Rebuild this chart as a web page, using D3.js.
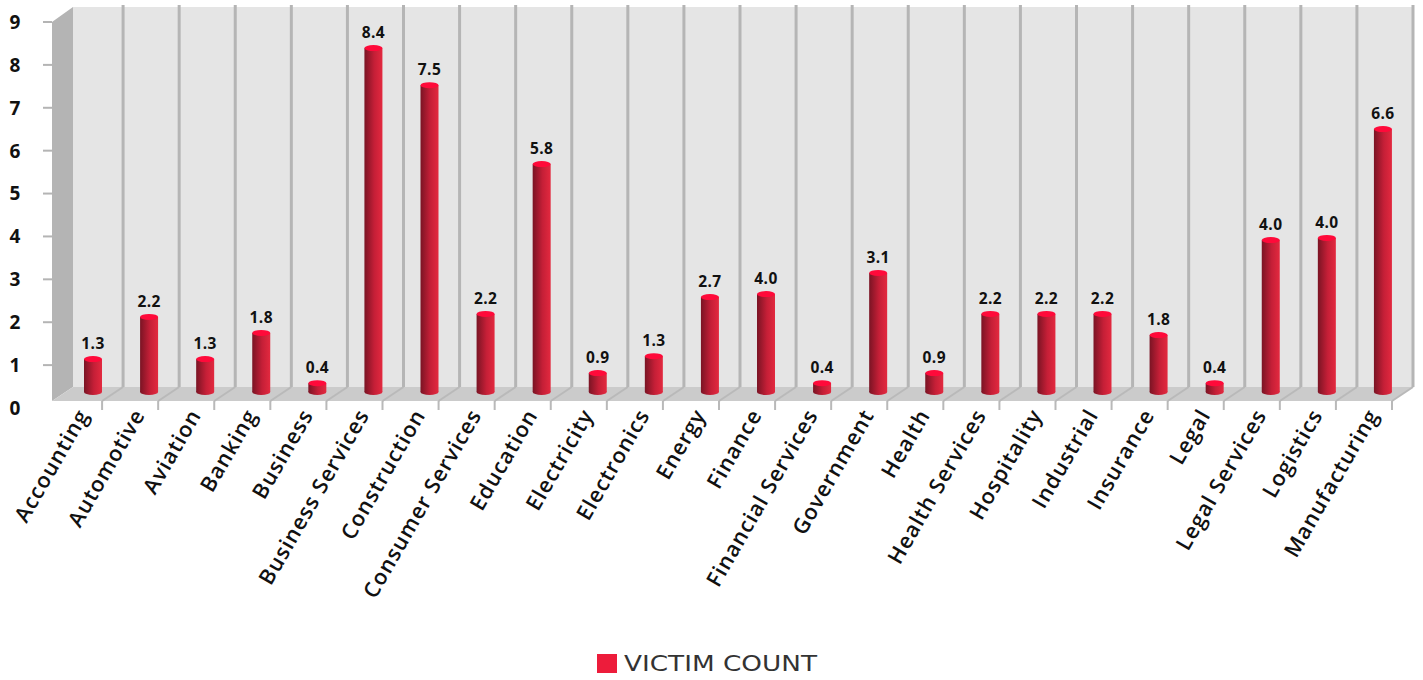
<!DOCTYPE html>
<html>
<head>
<meta charset="utf-8">
<script src="https://cdn.jsdelivr.net/npm/d3@7"></script>
<style>
  html, body { margin: 0; padding: 0; background: #ffffff; }
  svg { display: block; }
</style>
</head>
<body>
<svg id="chart" width="1423" height="680"></svg>
<script>
// ---- data ----
const categories = ["Accounting","Automotive","Aviation","Banking","Business","Business Services","Construction","Consumer Services","Education","Electricity","Electronics","Energy","Finance","Financial Services","Government","Health","Health Services","Hospitality","Industrial","Insurance","Legal","Legal Services","Logistics","Manufacturing"];
const barValues = [0.78,1.78,0.78,1.40,0.21,8.15,7.27,1.85,5.40,0.45,0.85,2.25,2.32,0.21,2.82,0.45,1.85,1.85,1.85,1.35,0.21,3.60,3.65,6.23];
const valueLabels = ["1.3","2.2","1.3","1.8","0.4","8.4","7.5","2.2","5.8","0.9","1.3","2.7","4.0","0.4","3.1","0.9","2.2","2.2","2.2","1.8","0.4","4.0","4.0","6.6"];
const yTickValues = [0,1,2,3,4,5,6,7,8,9];
const seriesName = "VICTIM COUNT";

// ---- layout ----
const svg = d3.select("#chart");
const DX = 21, DY = -14;           // 3D depth offset
const frontLeft = 52, frontBottom = 401, frontTop = 22;
const x = d3.scaleBand().domain(categories).range([46, 1392]).padding(0);
const bw = x.bandwidth();
const yAxis = d3.scaleLinear().domain([0, 9]).range([408, 22]);
const yBar = d3.scaleLinear().domain([0, 9]).range([392, 392 - 9 * 42.2]);
const frontRight = x.range()[1];

const defs = svg.append("defs");
const grad = defs.append("linearGradient").attr("id", "cyl").attr("x1", "0%").attr("x2", "100%").attr("y1", "0%").attr("y2", "0%");
grad.append("stop").attr("offset", "0%").attr("stop-color", "#7a1424");
grad.append("stop").attr("offset", "55%").attr("stop-color", "#c51f37");
grad.append("stop").attr("offset", "100%").attr("stop-color", "#e3293f");

// back wall
svg.append("rect")
  .attr("x", frontLeft + DX).attr("y", frontTop + DY - 1)
  .attr("width", frontRight + DX - (frontLeft + DX)).attr("height", frontBottom + DY - (frontTop + DY - 1))
  .attr("fill", "#e5e5e5");

// vertical grid lines on the back wall (category boundaries)
const boundaries = categories.map(c => x(c) + bw);
svg.append("g").selectAll("line").data(boundaries).join("line")
  .attr("x1", d => d + DX).attr("x2", d => d + DX)
  .attr("y1", frontTop + DY - 3).attr("y2", frontBottom + DY)
  .attr("stroke", "#b5b5b5").attr("stroke-width", 3);

// left side wall
svg.append("polygon")
  .attr("points", [[frontLeft, frontTop],[frontLeft + DX, frontTop + DY - 1],[frontLeft + DX, frontBottom + DY],[frontLeft, frontBottom]].map(p => p.join(",")).join(" "))
  .attr("fill", "#b4b4b4");

// floor
svg.append("polygon")
  .attr("points", [[frontLeft, frontBottom],[frontLeft + DX, frontBottom + DY],[frontRight + DX, frontBottom + DY],[frontRight, frontBottom]].map(p => p.join(",")).join(" "))
  .attr("fill", "#cbcbcb");

// floor grid diagonals and category ticks
const fg = svg.append("g");
fg.selectAll("line.diag").data(boundaries).join("line").attr("class", "diag")
  .attr("x1", d => d).attr("y1", frontBottom)
  .attr("x2", d => d + DX).attr("y2", frontBottom + DY)
  .attr("stroke", "#b9b9b9").attr("stroke-width", 2);
fg.selectAll("line.tick").data(boundaries).join("line").attr("class", "tick")
  .attr("x1", d => d).attr("y1", frontBottom)
  .attr("x2", d => d).attr("y2", frontBottom + 9)
  .attr("stroke", "#b9b9b9").attr("stroke-width", 2);

// y axis ticks and labels
const ya = svg.append("g");
ya.selectAll("line").data(yTickValues.filter(v => v > 0)).join("line")
  .attr("x1", 43).attr("x2", frontLeft)
  .attr("y1", d => yAxis(d)).attr("y2", d => yAxis(d))
  .attr("stroke", "#b4b4b4").attr("stroke-width", 2);
ya.selectAll("text").data(yTickValues).join("text")
  .attr("x", 15).attr("y", d => yAxis(d)).attr("dy", "0.36em")
  .attr("text-anchor", "middle")
  .attr("font-family", "'Open Sans', sans-serif").attr("font-weight", 700)
  .attr("font-size", 19).attr("fill", "#111")
  .text(d => d);

// cylinders
const cx = c => x(c) + 47;
const R = 9, RY = 3;
const bars = svg.append("g").selectAll("g").data(categories).join("g");
bars.append("ellipse")
  .attr("cx", c => cx(c)).attr("cy", yBar(0)).attr("rx", R).attr("ry", RY)
  .attr("fill", "url(#cyl)");
bars.append("rect")
  .attr("x", c => cx(c) - R).attr("width", 2 * R)
  .attr("y", (c, i) => yBar(barValues[i]))
  .attr("height", (c, i) => yBar(0) - yBar(barValues[i]))
  .attr("fill", "url(#cyl)");
bars.append("ellipse")
  .attr("cx", c => cx(c)).attr("cy", (c, i) => yBar(barValues[i])).attr("rx", R).attr("ry", RY)
  .attr("fill", "#ff0a3a");

// value labels
bars.append("text")
  .attr("x", c => cx(c)).attr("y", (c, i) => yBar(barValues[i]) - 10)
  .attr("text-anchor", "middle")
  .attr("font-family", "'Open Sans', sans-serif").attr("font-weight", 700)
  .attr("font-size", 15.5).attr("letter-spacing", 0.4).attr("fill", "#111")
  .text((c, i) => valueLabels[i]);

// category labels
svg.append("g").selectAll("text").data(categories).join("text")
  .attr("transform", c => `translate(${x(c) + bw - 19},${frontBottom + 10}) rotate(-60)`)
  .attr("text-anchor", "end").attr("dy", "0.35em")
  .attr("font-family", "'Open Sans', sans-serif").attr("font-weight", 600)
  .attr("font-size", 21.5).attr("letter-spacing", 1).attr("fill", "#111")
  .text(c => c);

// legend
const lg = svg.append("g");
lg.append("rect").attr("x", 597).attr("y", 654).attr("width", 20).attr("height", 19).attr("fill", "#ed1c3b");
lg.append("text").attr("x", 624).attr("y", 671)
  .attr("font-family", "'DejaVu Sans', sans-serif").attr("font-size", 21).attr("fill", "#333")
  .attr("textLength", 193).attr("lengthAdjust", "spacingAndGlyphs")
  .text(seriesName);
</script>
</body>
</html>
